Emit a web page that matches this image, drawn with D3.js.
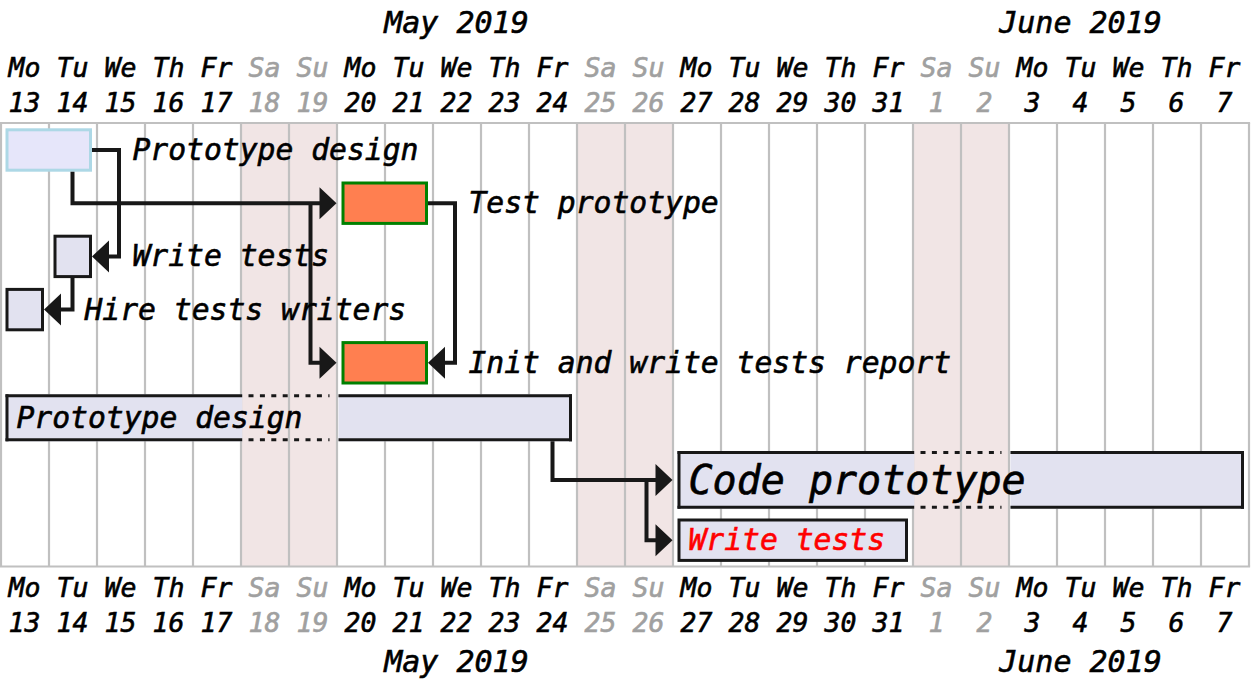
<!DOCTYPE html>
<html><head><meta charset="utf-8">
<script src="https://cdn.jsdelivr.net/npm/d3@7"></script>
<style>
body{margin:0;background:#fff}
svg{display:block}
text{font-family:"DejaVu Sans Mono",monospace;font-style:oblique;stroke-width:0.6px;paint-order:stroke}
</style>
</head><body><svg id="c" width="1251" height="681"></svg>
<script>
// ---------- data ----------
const firstDay = "2019-05-13";
const lastDay = "2019-06-07";
const dayNames = ["Su","Mo","Tu","We","Th","Fr","Sa"];
const monthLabels = ["January 2019","February 2019","March 2019","April 2019","May 2019","June 2019","July 2019","August 2019","September 2019","October 2019","November 2019","December 2019"];
const taskNames = ["Prototype design","Test prototype","Write tests","Hire tests writers","Init and write tests report","Prototype design","Code prototype","Write tests"];
const taskStart = ["2019-05-13","2019-05-20","2019-05-14","2019-05-13","2019-05-20","2019-05-13","2019-05-27","2019-05-27"];
const taskEnd   = ["2019-05-14","2019-05-21","2019-05-14","2019-05-13","2019-05-21","2019-05-24","2019-06-07","2019-05-31"];
const linkFrom = [0,0,2,1,1,5,6];
const linkTo   = [1,2,3,4,4,6,7];
const linkKind = ["end-start","end-end","start-end","start-start","end-end","end-start","start-start"];

// ---------- styles ----------
const taskStyle = [
  {fill:"#E6E6FA", stroke:"#ADD8E6", label:"right",  size:29.7, h:43.4, color:"#000"},
  {fill:"#FF7F50", stroke:"#008000", label:"right",  size:29.7, h:43.4, color:"#000"},
  {fill:"#E2E2F0", stroke:"#181818", label:"right",  size:29.7, h:43.4, color:"#000"},
  {fill:"#E2E2F0", stroke:"#181818", label:"right",  size:29.7, h:43.4, color:"#000"},
  {fill:"#FF7F50", stroke:"#008000", label:"right",  size:29.7, h:43.4, color:"#000"},
  {fill:"#E2E2F0", stroke:"#181818", label:"inside", size:29.7, h:47,   color:"#000"},
  {fill:"#E2E2F0", stroke:"#181818", label:"inside", size:40,   h:57.6, color:"#000"},
  {fill:"#E2E2F0", stroke:"#181818", label:"inside", size:29.7, h:43.4, color:"#FF0000"}
];
const W = 1251, H = 681;
const gridTop = 123, gridBottom = 566.5;
const rowTop0 = 128.3, rowGap = 9.8;
const weekendFill = "#F1E5E5", gridColor = "#C0C0C0", lineColor = "#181818", offColor = "#A0A0A0";

const parse = d3.utcParse("%Y-%m-%d");
const DAY = 864e5;
const d0 = parse(firstDay), d1 = new Date(+parse(lastDay) + DAY);
const days = d3.utcDay.range(d0, d1);
const x = d3.scaleUtc().domain([d0, d1]).range([0.5, 0.5 + 48 * days.length]);
const xe = d => x(new Date(+d + DAY));
const isWeekend = d => d.getUTCDay() === 0 || d.getUTCDay() === 6;

const svg = d3.select("#c");
svg.append("rect").attr("width", W).attr("height", H).attr("fill", "#fff");

// weekend shading
svg.append("g").selectAll("rect").data(days.filter(isWeekend)).join("rect")
  .attr("x", d => x(d)).attr("width", d => xe(d) - x(d))
  .attr("y", gridTop).attr("height", gridBottom - gridTop).attr("fill", weekendFill);

// vertical grid lines
const bounds = days.concat([d1]);
svg.append("g").selectAll("line").data(bounds).join("line")
  .attr("x1", d => x(d) + 0.5).attr("x2", d => x(d) + 0.5)
  .attr("y1", gridTop).attr("y2", gridBottom)
  .attr("stroke", gridColor).attr("stroke-width", 2.2);
[gridTop, gridBottom].forEach(y =>
  svg.append("line").attr("x1", 0).attr("x2", x(d1) + 1.6).attr("y1", y).attr("y2", y)
    .attr("stroke", gridColor).attr("stroke-width", 2.2));

// header/footer
function headers(yMonth, yName, yNum) {
  const g = svg.append("g");
  const col = d => isWeekend(d) ? offColor : "#000";
  g.selectAll("text.dn").data(days).join("text").attr("class", "dn")
    .attr("x", d => (x(d) + xe(d)) / 2).attr("y", yName)
    .attr("text-anchor", "middle").attr("font-size", 26.5)
    .attr("fill", col).attr("stroke", col)
    .text(d => dayNames[d.getUTCDay()]);
  g.selectAll("text.num").data(days).join("text").attr("class", "num")
    .attr("x", d => (x(d) + xe(d)) / 2).attr("y", yNum)
    .attr("text-anchor", "middle").attr("font-size", 26.5)
    .attr("fill", col).attr("stroke", col)
    .text(d => d.getUTCDate());
  const months = d3.groups(days, d => d.getUTCMonth());
  g.selectAll("text.mo").data(months).join("text").attr("class", "mo")
    .attr("x", m => (x(m[1][0]) + xe(m[1][m[1].length - 1])) / 2).attr("y", yMonth)
    .attr("text-anchor", "middle").attr("font-size", 30).attr("fill", "#000").attr("stroke", "#000")
    .text(m => monthLabels[m[0]]);
}
headers(33, 77, 112);
headers(672, 597, 632);

// task geometry
let yCursor = rowTop0;
const tasks = taskNames.map((name, i) => {
  const s = parse(taskStart[i]), e = parse(taskEnd[i]);
  const st = taskStyle[i];
  const t = {name, s, e, st, x0: x(s) + 5, x1: xe(e) - 4.5, y0: yCursor, y1: yCursor + st.h};
  t.ym = (t.y0 + t.y1) / 2;
  yCursor = t.y1 + rowGap;
  return t;
});

// bars
const gb = svg.append("g");
tasks.forEach(t => {
  const span = d3.utcDay.range(t.s, new Date(+t.e + DAY));
  const hasWeekend = span.some(isWeekend);
  const sw = 3;
  if (!hasWeekend) {
    gb.append("rect").attr("x", t.x0 + sw / 2).attr("y", t.y0 + sw / 2)
      .attr("width", t.x1 - t.x0 - sw).attr("height", t.y1 - t.y0 - sw)
      .attr("fill", t.st.fill).attr("stroke", t.st.stroke).attr("stroke-width", sw);
    return;
  }
  const runs = [];
  span.forEach(d => {
    const w = isWeekend(d);
    if (runs.length && runs[runs.length - 1].w === w) runs[runs.length - 1].days.push(d);
    else runs.push({w, days: [d]});
  });
  runs.forEach((r, k) => {
    const a = r.days[0], b = r.days[r.days.length - 1];
    if (!r.w) {
      const rx0 = k === 0 ? t.x0 : x(a) + 2;
      const rx1 = k === runs.length - 1 ? t.x1 : xe(b) + 1.7;
      gb.append("rect").attr("x", rx0).attr("y", t.y0).attr("width", rx1 - rx0)
        .attr("height", t.y1 - t.y0).attr("fill", t.st.fill);
      [t.y0 + sw / 2, t.y1 - sw / 2].forEach(yy =>
        gb.append("line").attr("x1", rx0).attr("x2", rx1).attr("y1", yy).attr("y2", yy)
          .attr("stroke", t.st.stroke).attr("stroke-width", sw));
      if (k === 0) gb.append("line").attr("x1", rx0 + sw / 2).attr("x2", rx0 + sw / 2)
        .attr("y1", t.y0).attr("y2", t.y1).attr("stroke", t.st.stroke).attr("stroke-width", sw);
      if (k === runs.length - 1) gb.append("line").attr("x1", rx1 - sw / 2).attr("x2", rx1 - sw / 2)
        .attr("y1", t.y0).attr("y2", t.y1).attr("stroke", t.st.stroke).attr("stroke-width", sw);
    } else {
      [t.y0 + sw / 2, t.y1 - sw / 2].forEach(yy =>
        gb.append("line").attr("x1", x(a) + 8).attr("x2", xe(b) - 7).attr("y1", yy).attr("y2", yy)
          .attr("stroke", t.st.stroke).attr("stroke-width", sw).attr("stroke-dasharray", "5,6.4"));
    }
  });
});

// links
const gl = svg.append("g");
const AL = 17, AH = 16;
linkKind.forEach((kind, i) => {
  const a = tasks[linkFrom[i]], b = tasks[linkTo[i]];
  let pts, tip, dir;
  if (kind === "end-start") {
    const cx = xe(a.e) - 24, tx = x(b.s);
    pts = [[cx, a.y1], [cx, b.ym], [tx - AL + 1, b.ym]]; tip = [tx, b.ym]; dir = 1;
  } else if (kind === "start-start") {
    const cx = x(a.s) - 26, tx = x(b.s);
    pts = [[cx, a.ym], [cx, b.ym], [tx - AL + 1, b.ym]]; tip = [tx, b.ym]; dir = 1;
  } else if (kind === "end-end") {
    const cx = xe(a.e) + 22.5;
    pts = [[a.x1, a.ym], [cx, a.ym], [cx, b.ym], [b.x1 + AL - 1, b.ym]]; tip = [b.x1, b.ym]; dir = -1;
  } else { // start-end
    const cx = x(a.s) + 24;
    pts = [[cx, a.y1], [cx, b.ym], [b.x1 + AL - 1, b.ym]]; tip = [b.x1, b.ym]; dir = -1;
  }
  gl.append("path").attr("d", d3.line()(pts)).attr("fill", "none")
    .attr("stroke", lineColor).attr("stroke-width", 4).attr("stroke-linejoin", "miter");
  const base = tip[0] - dir * AL;
  gl.append("path").attr("d", d3.line()([[tip[0], tip[1]], [base, tip[1] - AH], [base, tip[1] + AH]]) + "Z")
    .attr("fill", lineColor);
});

// labels
const gt = svg.append("g");
tasks.forEach(t => {
  const inside = t.st.label === "inside";
  gt.append("text")
    .attr("x", inside ? x(t.s) + 16 : xe(t.e) + 36)
    .attr("y", t.ym + 0.34 * t.st.size)
    .attr("font-size", t.st.size).attr("fill", t.st.color).attr("stroke", t.st.color)
    .text(t.name);
});
</script>
</body></html>
